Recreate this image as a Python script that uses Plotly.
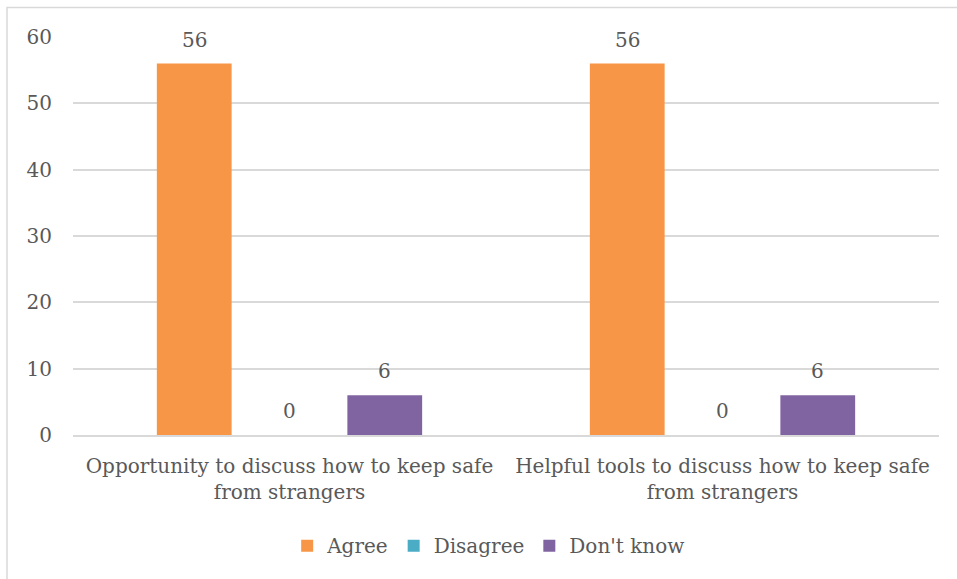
import plotly.graph_objects as go

categories = [
    "Opportunity to discuss how to keep safe<br>from strangers",
    "Helpful tools to discuss how to keep safe<br>from strangers",
]
series_names = ["Agree", "Disagree", "Don't know"]
agree = [56, 56]
disagree = [0, 0]
dont_know = [6, 6]
y_ticks = [0, 10, 20, 30, 40, 50, 60]

colors = ["#F79646", "#4BACC6", "#8064A2"]
font_family = "DejaVu Serif"
font_size = 20
text_color = "#595959"
grid_color = "#D9D9D9"

W, H = 957, 579
m_left, m_right, m_top, m_bottom = 73, 18, 37, 144
plot_w = W - m_left - m_right
plot_h = H - m_top - m_bottom

bargap, bargroupgap = 0.34, 0.215
n_series = len(series_names)
slot = (1 - bargap) / n_series  # width of one bar slot in category units

fig = go.Figure()
all_vals = [agree, disagree, dont_know]
for j, (name, vals, col) in enumerate(zip(series_names, all_vals, colors)):
    fig.add_trace(go.Bar(
        x=list(range(len(categories))), y=vals, name=name,
        marker=dict(color=col, line=dict(width=0)),
    ))
    # value labels above each bar
    for i, v in enumerate(vals):
        fig.add_annotation(
            x=i + (j - (n_series - 1) / 2) * slot, y=v, xref="x", yref="y",
            text=str(v), showarrow=False, yanchor="middle", yshift=24,
            font=dict(family=font_family, size=font_size, color=text_color),
        )

# outer chart frame (extends past right and bottom edges)
fig.add_shape(
    type="rect", xref="paper", yref="paper",
    x0=(7 - m_left) / plot_w, x1=(W + 10 - m_left) / plot_w,
    y0=-(m_bottom + 10) / plot_h, y1=1 + (m_top - 7.5) / plot_h,
    line=dict(color=grid_color, width=1.5), layer="below",
)

fig.update_layout(
    width=W, height=H,
    margin=dict(l=m_left, r=m_right, t=m_top, b=m_bottom),
    paper_bgcolor="white", plot_bgcolor="white",
    barmode="group", bargap=bargap, bargroupgap=bargroupgap,
    font=dict(family=font_family, size=font_size, color=text_color),
    showlegend=True,
    legend=dict(orientation="h", x=0.48, xanchor="center", y=-0.278, yanchor="middle",
                font=dict(family=font_family, size=font_size, color=text_color),
                itemwidth=30, tracegroupgap=0),
    xaxis=dict(tickmode="array", tickvals=list(range(len(categories))), ticktext=categories,
               range=[-0.5, len(categories) - 0.5],
               showgrid=False, showline=True, linecolor=grid_color, linewidth=1.5,
               ticks="", tickfont=dict(size=font_size), ticklabelstandoff=12,
               automargin=False),
    yaxis=dict(range=[0, 60], tickvals=y_ticks, showgrid=True, gridcolor=grid_color,
               gridwidth=1.5, zeroline=False, showline=False, ticks="",
               tickfont=dict(size=font_size), ticklabelstandoff=20, automargin=False),
)

fig.write_html("out.html")
